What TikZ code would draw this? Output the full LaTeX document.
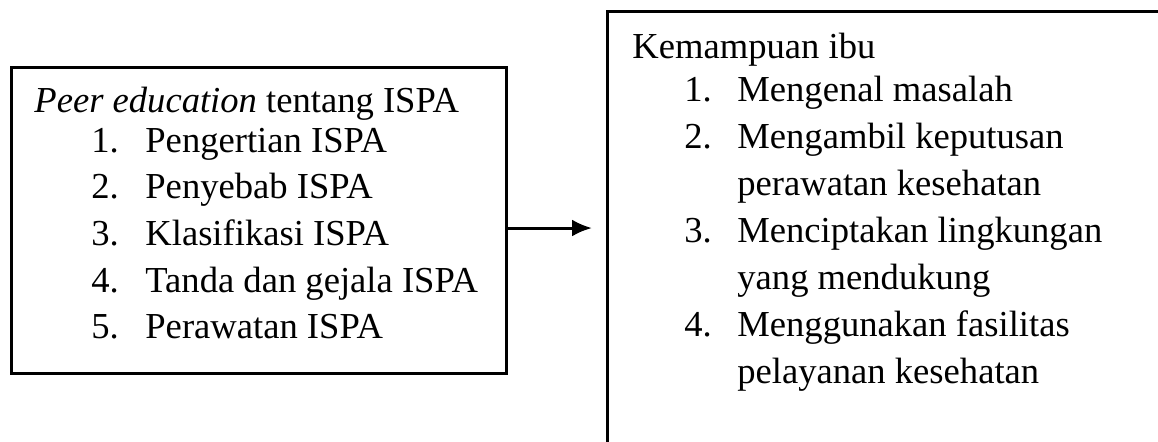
\documentclass[tikz,border=0pt]{standalone}
\usepackage{fontspec}
\setmainfont{Liberation Serif}
\usetikzlibrary{arrows.meta}

\begin{document}
\begin{tikzpicture}[x=0.5pt,y=-0.5pt]

\tikzset{
framebox/.style={
draw=black,
line width=1.5pt,
inner sep=0pt
},
itemtext/.style={
anchor=base west,
inner sep=0pt,
font=\fontsize{18.3}{23}\selectfont
}
}

\clip (0,0) rectangle (1158,441);

%--------------------------------------------------
% BOXES
%--------------------------------------------------

\node[framebox,minimum width=247.5pt,minimum height=153pt]
(peer) at (258.5,220) {};

\node[framebox,minimum width=321.5pt,minimum height=244.5pt]
(ability) at (928.5,255.5) {};

\coordinate (tip) at (592,228);
\draw[line width=1.5pt,-{Latex[length=10pt,width=8.5pt]}]
(peer.east |- tip) -- (tip);

%--------------------------------------------------
% PEER EDUCATION
%--------------------------------------------------

\node[itemtext] (peertitle) at (34,112) {\textit{Peer education} tentang ISPA};

\node[itemtext] (peernum1) at (91,152) {1.};
\node[itemtext] (peeritem1) at (145,152) {Pengertian ISPA};

\node[itemtext] (peernum2) at (91,198) {2.};
\node[itemtext] (peeritem2) at (145,198) {Penyebab ISPA};

\node[itemtext] (peernum3) at (91,245) {3.};
\node[itemtext] (peeritem3) at (145,245) {Klasifikasi ISPA};

\node[itemtext] (peernum4) at (91,292) {4.};
\node[itemtext] (peeritem4) at (145,292) {Tanda dan gejala ISPA};

\node[itemtext] (peernum5) at (91,338) {5.};
\node[itemtext] (peeritem5) at (145,338) {Perawatan ISPA};

%--------------------------------------------------
% KEMAMPUAN IBU
%--------------------------------------------------

\node[itemtext] (abilitytitle) at (632,58) {Kemampuan ibu};

\node[itemtext] (abilitynum1) at (684,101) {1.};
\node[itemtext] (abilityitem1) at (737,101) {Mengenal masalah};

\node[itemtext] (abilitynum2) at (684,148) {2.};
\node[itemtext] (abilityitem2) at (737,148) {Mengambil keputusan};
\node[itemtext] (abilityitem2b) at (737,195) {perawatan kesehatan};

\node[itemtext] (abilitynum3) at (684,242) {3.};
\node[itemtext] (abilityitem3) at (737,242) {Menciptakan lingkungan};
\node[itemtext] (abilityitem3b) at (737,289) {yang mendukung};

\node[itemtext] (abilitynum4) at (684,336) {4.};
\node[itemtext] (abilityitem4) at (737,336) {Menggunakan fasilitas};
\node[itemtext] (abilityitem4b) at (737,383) {pelayanan kesehatan};

\end{tikzpicture}
\end{document}
